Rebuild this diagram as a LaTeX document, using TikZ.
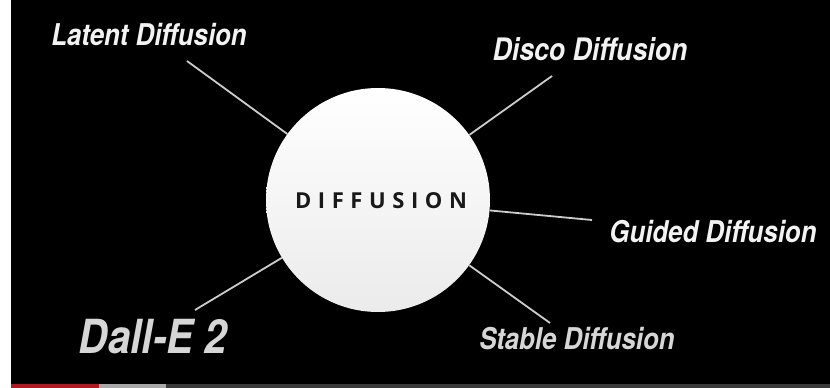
\documentclass[tikz,border=0pt]{standalone}
\usepackage{fontspec}
\setmainfont{TeX Gyre Heros}
\newfontfamily\labfont[FakeStretch=0.86]{TeX Gyre Heros}
\newfontfamily\cfont[LetterSpace=30]{Open Sans}
\definecolor{txtA}{HTML}{F2F2F2}
\definecolor{txtB}{HTML}{D6D6D6}
\definecolor{lineC}{HTML}{CCCCCC}
\definecolor{barRed}{HTML}{B01822}
\definecolor{barLight}{HTML}{A8A8A8}
\definecolor{barDark}{HTML}{3A3A3A}
\definecolor{circBot}{HTML}{EBEBEB}
\tikzset{
  lab/.style={font=\labfont\bfseries\itshape\fontsize{30}{30}\selectfont, text=txtA, inner sep=0pt, anchor=base},
  spoke/.style={draw=lineC, line width=1.8pt},
  hub/.style={circle, minimum size=224pt, inner sep=0pt, top color=white, middle color=white, bottom color=circBot},
  hubtext/.style={font=\cfont\bfseries\fontsize{22}{22}\selectfont, text=black!90, inner sep=0pt, anchor=base}
}
\begin{document}
\begin{tikzpicture}[x=1pt,y=-1pt]
\useasboundingbox (0,0) rectangle (830,388);
\fill[black] (0,0) rectangle (830,388);
\fill[white] (0,0) rectangle (11,388);
\fill[barDark] (11,384) rectangle (830,388);
\fill[barRed] (11,384) rectangle (99,388);
\fill[barLight] (99,384) rectangle (166,388);

\node[hub] (c) at (378,200) {};
\node[hubtext] (t) at (381,208) {DIFFUSION};

\coordinate (pL) at (187,61);
\coordinate (pD) at (552,76);
\coordinate (pG) at (592,220);
\coordinate (pS) at (550,323);
\coordinate (pE) at (195,310);

\draw[spoke] (c) -- (pL);
\draw[spoke] (c) -- (pD);
\draw[spoke] (c) -- (pG);
\draw[spoke] (c) -- (pS);
\draw[spoke] (c) -- (pE);

\node[lab] (l1) at (149,45) {Latent Diffusion};
\node[lab, font=\labfont\bfseries\itshape\fontsize{31}{31}\selectfont] (l2) at (590,60) {Disco Diffusion};
\node[lab] (l3) at (713,242) {Guided Diffusion};
\node[lab, text=txtB] (l4) at (577,349) {Stable Diffusion};
\node[lab, text=txtB, font=\labfont\bfseries\itshape\fontsize{47}{47}\selectfont] (l5) at (153,353) {Dall-E 2};
\end{tikzpicture}
\end{document}
